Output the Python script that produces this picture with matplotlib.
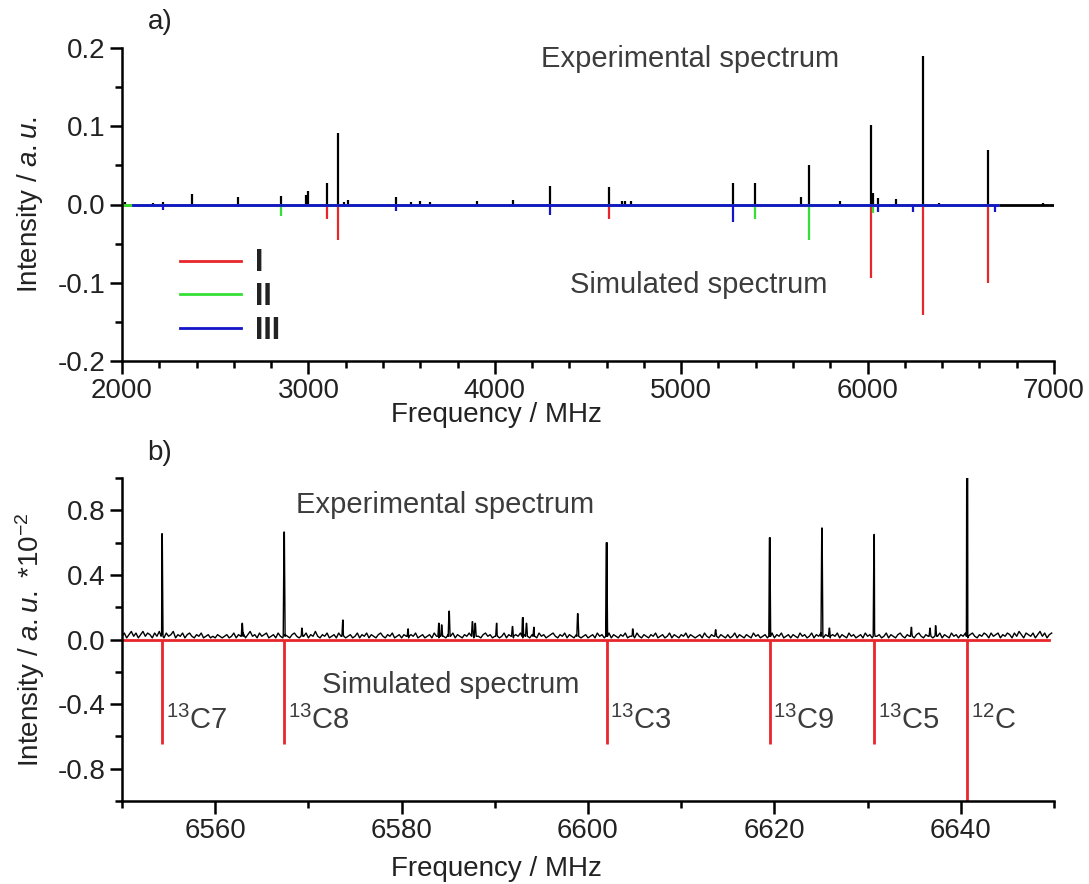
import numpy as np
import matplotlib.pyplot as plt
from matplotlib.ticker import MultipleLocator

plt.rcParams['font.family'] = ['Liberation Sans', 'DejaVu Sans']
plt.rcParams['mathtext.fontset'] = 'custom'
plt.rcParams['mathtext.rm'] = 'Liberation Sans'
plt.rcParams['mathtext.it'] = 'Liberation Sans:italic'
plt.rcParams['axes.unicode_minus'] = False

# ---- panel a) broadband spectrum (MHz, a.u.) ----
exp_freq = [2018, 2168, 2221, 2377, 2624, 2854, 2988, 2999, 3101, 3160, 3190, 3213,
            3471, 3550, 3600, 3650, 3905, 4098, 4297, 4613, 4680, 4700, 4730, 5276,
            5394, 5645, 5683, 5850, 6020, 6030, 6057, 6153, 6298, 6385, 6645, 6941]
exp_int = [0.003, 0.002, 0.003, 0.014, 0.009, 0.011, 0.012, 0.017, 0.027, 0.092, 0.003, 0.006,
           0.010, 0.003, 0.004, 0.003, 0.004, 0.006, 0.024, 0.022, 0.005, 0.005, 0.004, 0.028,
           0.027, 0.010, 0.051, 0.004, 0.101, 0.015, 0.008, 0.007, 0.190, 0.002, 0.070, 0.002]

sim_I_freq = [3101, 3160, 4613, 6020, 6298, 6645]
sim_I_int = [0.018, 0.045, 0.018, 0.094, 0.141, 0.100]
sim_II_freq = [2854, 5394, 5683, 6030]
sim_II_int = [0.015, 0.019, 0.046, 0.011]
sim_III_freq = [2221, 2624, 3471, 4297, 5276, 6057, 6244, 6683]
sim_III_int = [0.007, 0.003, 0.008, 0.014, 0.023, 0.009, 0.009, 0.009]

# ---- panel b) zoom on the 12C line and its 13C isotopologues ----
iso_labels = ['$^{13}$C7', '$^{13}$C8', '$^{13}$C3', '$^{13}$C9', '$^{13}$C5', '$^{12}$C']
iso_freq = [6554.3, 6567.4, 6602.0, 6619.5, 6630.7, 6640.7]
iso_exp = [0.655, 0.665, 0.60, 0.63, 0.65, 2.5]
iso_sim = [0.65, 0.65, 0.65, 0.65, 0.65, 1.0]

small_freq = [6562.9, 6569.3, 6573.7, 6580.7, 6584.0, 6584.3, 6585.1, 6587.6, 6587.9,
              6590.2, 6591.9, 6593.0, 6593.4, 6594.2, 6598.9, 6604.8, 6613.7, 6625.1,
              6625.9, 6634.7, 6636.7, 6637.3]
small_int = [0.10, 0.07, 0.12, 0.065, 0.10, 0.09, 0.175, 0.11, 0.10,
             0.10, 0.08, 0.135, 0.10, 0.075, 0.16, 0.065, 0.06, 0.69,
             0.07, 0.075, 0.07, 0.085]

# baseline noise, every 0.25 MHz from 6550 MHz (units of 0.01)
noise_b = [2, 4, 1, 3, 5, 2, 4, 1, 3, 5, 2, 4, 3, 1, 4, 2, 5, 3, 1, 4,
           2, 3, 5, 1, 3, 2, 4, 1, 3, 4, 2, 1, 3, 2, 4, 1, 2, 3, 1, 2,
           1, 3, 2, 1, 2, 3, 1, 2, 4, 1, 3, 2, 4, 1, 3, 5, 2, 3, 1, 4,
           2, 3, 4, 1, 2, 3, 1, 4, 2, 1, 3, 2, 1, 3, 4, 2, 1, 3, 2, 4,
           1, 3, 2, 5, 2, 1, 3, 2, 4, 1, 2, 3, 1, 4, 2, 3, 1, 2, 3, 1,
           2, 4, 1, 3, 2, 4, 1, 3, 2, 1, 3, 4, 2, 1, 3, 2, 4, 1, 2, 3,
           1, 3, 2, 1, 3, 2, 4, 1, 2, 3, 1, 2, 3, 1, 4, 2, 1, 3, 2, 1,
           3, 2, 4, 1, 3, 2, 1, 3, 2, 4, 2, 1, 3, 2, 1, 3, 4, 2, 3, 1,
           2, 3, 1, 2, 4, 1, 3, 2, 1, 3, 2, 4, 1, 3, 2, 1, 3, 2, 1, 4,
           2, 3, 1, 2, 3, 4, 2, 1, 3, 2, 4, 1, 3, 2, 1, 3, 4, 1, 2, 3,
           1, 2, 3, 1, 4, 2, 3, 1, 2, 4, 1, 3, 2, 1, 3, 2, 4, 1, 2, 3,
           1, 4, 2, 1, 3, 2, 1, 3, 2, 4, 1, 2, 3, 1, 2, 4, 1, 3, 2, 1,
           3, 2, 4, 1, 3, 2, 1, 2, 3, 1, 4, 2, 1, 3, 2, 4, 1, 3, 2, 1,
           3, 1, 2, 4, 1, 3, 2, 1, 3, 2, 1, 4, 2, 3, 1, 2, 3, 1, 2, 4,
           1, 3, 2, 4, 1, 2, 3, 1, 3, 2, 1, 4, 2, 3, 1, 2, 4, 1, 3, 2,
           4, 1, 3, 2, 1, 3, 2, 4, 1, 3, 2, 1, 4, 2, 3, 1, 2, 3, 1, 4,
           2, 3, 1, 4, 2, 3, 1, 2, 4, 1, 3, 2, 1, 3, 4, 2, 1, 3, 2, 4,
           1, 3, 4, 2, 1, 3, 2, 4, 1, 3, 2, 4, 1, 3, 2, 1, 4, 2, 3, 1,
           3, 2, 4, 1, 3, 4, 2, 1, 3, 2, 4, 3, 1, 4, 2, 3, 4, 1, 3, 2,
           4, 3, 1, 4, 2, 5, 3, 1, 4, 3, 2, 4, 1, 3, 5, 2, 4, 1, 3, 4]

RED = '#e8262b'
GREEN = '#35e035'
BLUE = '#1414c8'
TXT = '#3c3c3c'

W, H = 1089, 884
fig = plt.figure(figsize=(W / 100, H / 100), dpi=100)
ax1 = fig.add_axes([122 / W, 1 - 361 / H, 932 / W, 313 / H])
ax2 = fig.add_axes([122 / W, 1 - 801 / H, 932 / W, 323 / H])

# panel a
ax1.plot([2000, 7000], [0, 0], color='k', lw=2)
ax1.vlines(exp_freq, 0, exp_int, color='k', lw=1.6)
ax1.plot([2000, 6700], [0, 0], color=RED, lw=2)
ax1.vlines(sim_I_freq, 0, -np.array(sim_I_int), color=RED, lw=1.6)
ax1.plot([2000, 6700], [0, 0], color=GREEN, lw=2)
ax1.vlines(sim_II_freq, 0, -np.array(sim_II_int), color=GREEN, lw=1.6)
ax1.plot([2060, 6700], [0, 0], color=BLUE, lw=2)
ax1.vlines(sim_III_freq, 0, -np.array(sim_III_int), color=BLUE, lw=1.6)

hI, = ax1.plot([], [], color=RED, lw=2, label='I')
hII, = ax1.plot([], [], color=GREEN, lw=2, label='II')
hIII, = ax1.plot([], [], color=BLUE, lw=2, label='III')
leg = ax1.legend(handles=[hI, hII, hIII], loc='upper left', bbox_to_anchor=(0.062, 0.36),
                 frameon=False, borderpad=0, borderaxespad=0, handlelength=2.0,
                 handletextpad=0.45, labelspacing=0.12,
                 prop={'family': 'Liberation Sans', 'weight': 'bold', 'size': 22})
for t in leg.get_texts():
    t.set_color('#222222')

ax1.set_xlim(2000, 7000)
ax1.set_ylim(-0.2, 0.2)
ax1.xaxis.set_major_locator(MultipleLocator(1000))
ax1.xaxis.set_minor_locator(MultipleLocator(200))
ax1.yaxis.set_major_locator(MultipleLocator(0.1))
ax1.yaxis.set_minor_locator(MultipleLocator(0.05))
ax1.set_xlabel('Frequency / MHz', fontsize=20, color='#222222')
ax1.xaxis.set_label_coords(0.402, -0.13, transform=ax1.transAxes)
ax1.text(0.609, 0.965, 'Experimental spectrum', transform=ax1.transAxes, fontsize=21,
         color=TXT, ha='center', va='center')
ax1.text(0.619, 0.243, 'Simulated spectrum', transform=ax1.transAxes, fontsize=21,
         color=TXT, ha='center', va='center')

# panel b
grid = 6550 + 0.25 * np.arange(len(noise_b))
xs = list(grid)
ys = list(np.array(noise_b) * 0.01)
for f, h in zip(small_freq + iso_freq, small_int + iso_exp):
    xs += [f - 0.1, f - 0.02, f + 0.02, f + 0.1]
    ys += [0.02, h, h, 0.02]
order = np.argsort(xs)
ax2.plot(np.array(xs)[order], np.array(ys)[order], color='k', lw=1)

ax2.plot([6550, 6649.5], [0, 0], color=RED, lw=2)
ax2.vlines(iso_freq, 0, -np.array(iso_sim), color=RED, lw=2)
for lab, f in zip(iso_labels, iso_freq):
    ax2.text(f + 0.4, -0.5, lab, fontsize=21, color=TXT, ha='left', va='center')

ax2.set_xlim(6550, 6650)
ax2.set_ylim(-1.0, 1.0)
ax2.xaxis.set_major_locator(MultipleLocator(20))
ax2.xaxis.set_minor_locator(MultipleLocator(10))
ax2.yaxis.set_major_locator(MultipleLocator(0.4))
ax2.yaxis.set_minor_locator(MultipleLocator(0.2))
ax2.set_xlabel('Frequency / MHz', fontsize=20, color='#222222')
ax2.xaxis.set_label_coords(0.402, -0.17, transform=ax2.transAxes)
ax2.text(0.347, 0.916, 'Experimental spectrum', transform=ax2.transAxes, fontsize=21,
         color=TXT, ha='center', va='center')
ax2.text(0.353, 0.359, 'Simulated spectrum', transform=ax2.transAxes, fontsize=21,
         color=TXT, ha='center', va='center')

for ax in (ax1, ax2):
    ax.spines['top'].set_visible(False)
    ax.spines['right'].set_visible(False)
    for s in ('left', 'bottom'):
        ax.spines[s].set_linewidth(1.8)
    ax.tick_params(which='major', direction='out', length=9, width=1.8,
                   labelsize=20, labelcolor='#222222', pad=3)
    ax.tick_params(which='minor', direction='out', length=5, width=1.8)
ax1.yaxis.set_major_formatter(plt.FormatStrFormatter('%.1f'))
ax2.yaxis.set_major_formatter(plt.FormatStrFormatter('%.1f'))

fig.text(30 / W, 1 - 205 / H, 'Intensity / $\\mathit{a.u.}$', rotation=90, fontsize=20,
         color='#222222', ha='center', va='center')
fig.text(30 / W, 1 - 640 / H, 'Intensity / $\\mathit{a.u.}$ *10$^{-2}$', rotation=90,
         fontsize=20, color='#222222', ha='center', va='center')
fig.text(148 / W, 1 - 22 / H, 'a)', fontsize=20, color='#222222', ha='left', va='center')
fig.text(147 / W, 1 - 453 / H, 'b)', fontsize=20, color='#222222', ha='left', va='center')

fig.savefig('out.png', dpi=100)
